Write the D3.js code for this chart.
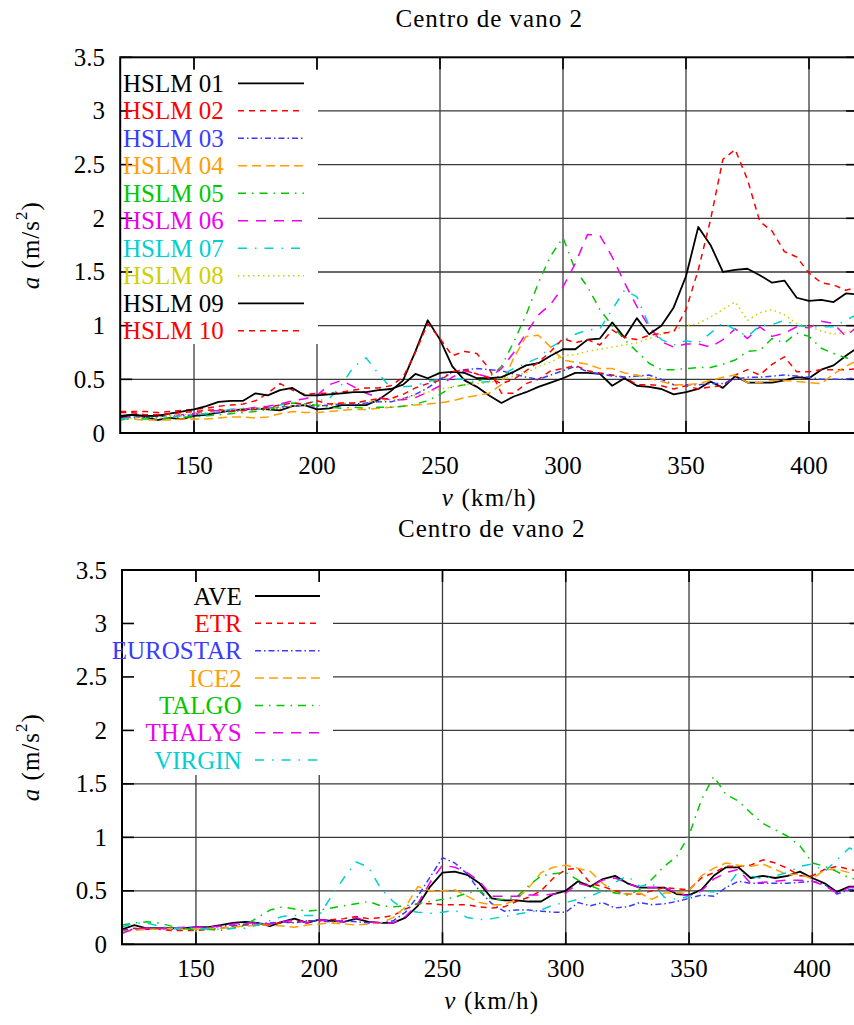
<!DOCTYPE html>
<html><head><meta charset="utf-8">
<script src="https://cdn.jsdelivr.net/npm/d3@7"></script>
<style>
body{margin:0;background:#fff}
svg{display:block}
text{font-family:"Liberation Serif","Times New Roman",serif;fill:#000}
</style>
</head><body>
<svg id="c" width="854" height="1025"></svg>
<script>
// ---------- data ----------
const speeds = [120,125,130,135,140,145,150,155,160,165,170,175,180,185,190,195,200,205,210,215,
  220,225,230,235,240,245,250,255,260,265,270,275,280,285,290,295,300,305,310,315,
  320,325,330,335,340,345,350,355,360,365,370,375,380,385,390,395,400,405,410,415,420];
const xTicks = [150,200,250,300,350,400];
const yTicks = [0,0.5,1,1.5,2,2.5,3,3.5];
const yTickLabels = ["0","0.5","1","1.5","2","2.5","3","3.5"];
const panelTitle = "Centro de vano 2";

const hslmNames = ["HSLM 01","HSLM 02","HSLM 03","HSLM 04","HSLM 05","HSLM 06","HSLM 07","HSLM 08","HSLM 09","HSLM 10"];
const hslm01 = [0.16,0.17,0.15,0.12,0.14,0.13,0.16,0.17,0.19,0.21, 0.22,0.23,0.22,0.21,0.25,0.26,0.22,0.23,0.26,0.26,
  0.26,0.31,0.39,0.49,0.76,1.05,0.87,0.62,0.49,0.43, 0.35,0.28,0.34,0.38,0.43,0.47,0.51,0.56,0.56,0.55,
  0.44,0.51,0.44,0.43,0.41,0.36,0.38,0.41,0.48,0.42, 0.53,0.47,0.47,0.47,0.49,0.52,0.51,0.59,0.63,0.72, 0.80];
const hslm02 = [0.2,0.2,0.2,0.19,0.2,0.21,0.22,0.23,0.25,0.26, 0.27,0.3,0.37,0.46,0.4,0.36,0.37,0.37,0.38,0.4,
  0.42,0.42,0.44,0.52,0.75,1.02,0.88,0.72,0.76,0.74, 0.6,0.37,0.37,0.46,0.5,0.58,0.6,0.63,0.58,0.56,
  0.54,0.52,0.45,0.45,0.44,0.41,0.44,0.41,0.43,0.44, 0.54,0.59,0.54,0.64,0.71,0.57,0.57,0.59,0.59,0.59, 0.6];
const hslm03 = [0.14,0.15,0.15,0.15,0.16,0.16,0.17,0.18,0.19,0.2, 0.21,0.22,0.23,0.24,0.25,0.26,0.25,0.26,0.27,0.27,
  0.28,0.29,0.29,0.32,0.36,0.42,0.5,0.57,0.59,0.6, 0.59,0.58,0.55,0.52,0.5,0.54,0.58,0.62,0.57,0.55,
  0.53,0.52,0.53,0.54,0.5,0.45,0.45,0.45,0.46,0.46, 0.5,0.52,0.52,0.53,0.54,0.53,0.52,0.5,0.5,0.5, 0.52];
const hslm04 = [0.13,0.13,0.12,0.12,0.12,0.13,0.13,0.13,0.14,0.15, 0.15,0.14,0.15,0.18,0.2,0.19,0.19,0.2,0.21,0.22,
  0.22,0.23,0.24,0.25,0.26,0.27,0.28,0.3,0.33,0.35, 0.37,0.45,0.7,0.9,0.91,0.8,0.68,0.66,0.64,0.6,
  0.6,0.56,0.54,0.51,0.48,0.45,0.45,0.46,0.49,0.52, 0.54,0.47,0.47,0.49,0.49,0.48,0.47,0.46,0.55,0.62, 0.68];
const hslm05 = [0.12,0.14,0.13,0.13,0.14,0.15,0.15,0.16,0.17,0.18, 0.19,0.2,0.22,0.24,0.28,0.27,0.26,0.24,0.23,0.24,
  0.23,0.24,0.24,0.25,0.27,0.3,0.36,0.43,0.45,0.48, 0.52,0.62,0.85,1.1,1.4,1.65,1.82,1.52,1.36,1.15,
  1.0,0.87,0.76,0.65,0.59,0.59,0.6,0.61,0.61,0.64, 0.68,0.76,0.77,0.88,0.84,0.93,0.9,0.79,0.74,0.7, 0.68];
const hslm06 = [0.14,0.15,0.16,0.17,0.16,0.17,0.18,0.2,0.21,0.22, 0.22,0.24,0.25,0.27,0.3,0.32,0.35,0.45,0.49,0.43,
  0.37,0.33,0.31,0.31,0.33,0.38,0.44,0.52,0.58,0.55, 0.52,0.6,0.75,0.93,1.1,1.2,1.36,1.58,1.85,1.84,
  1.64,1.4,1.18,0.99,0.85,0.8,0.83,0.83,0.8,0.87, 0.97,0.88,0.99,0.9,0.93,0.99,0.98,1.04,1.02,0.9, 1.0];
const hslm07 = [0.13,0.14,0.15,0.16,0.15,0.16,0.17,0.18,0.2,0.22, 0.23,0.22,0.24,0.26,0.28,0.27,0.3,0.32,0.45,0.62,
  0.7,0.55,0.42,0.43,0.44,0.48,0.5,0.5,0.5,0.47, 0.48,0.54,0.6,0.65,0.7,0.8,0.86,0.92,0.96,0.97,
  1.15,1.33,1.27,1.0,0.87,0.82,0.86,0.84,0.93,1.03, 0.96,0.9,1.0,1.01,1.05,1.0,0.99,0.99,0.99,1.05, 1.11];
const hslm08 = [0.12,0.14,0.15,0.15,0.16,0.17,0.18,0.19,0.2,0.21, 0.22,0.23,0.22,0.23,0.25,0.26,0.26,0.27,0.28,0.28,
  0.29,0.3,0.31,0.32,0.35,0.38,0.41,0.43,0.45,0.46, 0.47,0.5,0.53,0.56,0.62,0.66,0.72,0.73,0.76,0.78,
  0.8,0.82,0.84,0.88,0.92,0.96,1.0,1.02,1.08,1.15, 1.22,1.05,1.12,1.15,1.1,1.02,0.99,0.95,0.92,0.94, 0.96];
const hslm09 = [0.15,0.17,0.16,0.16,0.18,0.2,0.22,0.25,0.29,0.3, 0.3,0.37,0.35,0.40,0.42,0.35,0.35,0.36,0.37,0.38,
  0.38,0.40,0.41,0.45,0.55,0.51,0.56,0.57,0.56,0.51, 0.51,0.52,0.57,0.63,0.65,0.72,0.78,0.78,0.87,0.88,
  1.03,0.89,1.07,0.92,1.0,1.17,1.46,1.92,1.75,1.50, 1.52,1.53,1.47,1.40,1.42,1.26,1.23,1.24,1.22,1.30, 1.29];
const hslm10 = [0.19,0.19,0.17,0.17,0.18,0.19,0.2,0.21,0.22,0.2, 0.21,0.22,0.24,0.26,0.28,0.27,0.3,0.27,0.28,0.28,
  0.3,0.32,0.32,0.36,0.42,0.46,0.49,0.57,0.59,0.55, 0.51,0.46,0.5,0.58,0.66,0.76,0.88,0.84,0.87,0.82,
  0.96,0.89,0.87,0.91,0.93,0.94,1.15,1.52,1.99,2.55, 2.64,2.36,1.97,1.88,1.69,1.64,1.49,1.40,1.38,1.33, 1.36];

const trainNames = ["AVE","ETR","EUROSTAR","ICE2","TALGO","THALYS","VIRGIN"];
const ave = [0.14,0.18,0.15,0.15,0.15,0.15,0.16,0.16,0.18,0.2, 0.21,0.2,0.17,0.21,0.24,0.2,0.23,0.22,0.21,0.24,
  0.21,0.2,0.2,0.25,0.36,0.54,0.67,0.68,0.65,0.57, 0.43,0.41,0.41,0.4,0.4,0.47,0.5,0.59,0.54,0.61,
  0.64,0.57,0.53,0.53,0.53,0.47,0.46,0.51,0.64,0.72, 0.72,0.62,0.64,0.62,0.64,0.68,0.62,0.57,0.49,0.54, 0.54];
const etr = [0.13,0.15,0.14,0.14,0.13,0.13,0.13,0.14,0.15,0.17, 0.18,0.18,0.19,0.2,0.21,0.22,0.22,0.23,0.24,0.26,
  0.24,0.25,0.27,0.33,0.38,0.38,0.37,0.37,0.37,0.35, 0.34,0.35,0.4,0.44,0.5,0.62,0.7,0.71,0.57,0.54,
  0.5,0.47,0.47,0.5,0.53,0.52,0.51,0.62,0.67,0.73, 0.73,0.74,0.79,0.76,0.71,0.64,0.64,0.7,0.73,0.7, 0.68];
const eurostar = [0.13,0.14,0.15,0.15,0.14,0.15,0.16,0.15,0.17,0.18, 0.19,0.19,0.2,0.21,0.2,0.22,0.22,0.21,0.22,0.21,
  0.2,0.2,0.22,0.3,0.45,0.63,0.81,0.76,0.66,0.5, 0.38,0.31,0.32,0.32,0.31,0.3,0.3,0.39,0.36,0.39,
  0.34,0.35,0.39,0.37,0.38,0.4,0.43,0.46,0.45,0.53, 0.59,0.57,0.57,0.57,0.57,0.58,0.59,0.56,0.47,0.51, 0.52];
const ice2 = [0.12,0.13,0.14,0.14,0.15,0.14,0.14,0.15,0.15,0.16, 0.17,0.18,0.18,0.17,0.16,0.18,0.19,0.2,0.19,0.18,
  0.19,0.2,0.25,0.35,0.54,0.5,0.5,0.51,0.45,0.39, 0.37,0.37,0.42,0.53,0.67,0.72,0.74,0.71,0.68,0.57,
  0.48,0.47,0.48,0.42,0.48,0.48,0.5,0.64,0.71,0.76, 0.74,0.73,0.75,0.7,0.65,0.66,0.61,0.7,0.7,0.67, 0.68];
const talgo = [0.18,0.2,0.21,0.2,0.17,0.15,0.13,0.14,0.13,0.15, 0.18,0.25,0.32,0.35,0.33,0.31,0.32,0.34,0.36,0.38,
  0.4,0.36,0.35,0.36,0.38,0.4,0.42,0.44,0.48,0.5, 0.42,0.42,0.44,0.55,0.64,0.66,0.67,0.6,0.55,0.5,
  0.48,0.46,0.51,0.61,0.73,0.82,1.02,1.35,1.57,1.4, 1.34,1.23,1.13,1.07,1.01,0.92,0.76,0.73,0.68,0.62, 0.6];
const thalys = [0.1,0.15,0.15,0.15,0.15,0.16,0.16,0.16,0.17,0.19, 0.2,0.2,0.19,0.21,0.23,0.2,0.23,0.22,0.21,0.25,
  0.21,0.2,0.2,0.26,0.38,0.58,0.74,0.72,0.67,0.59, 0.45,0.45,0.45,0.46,0.46,0.47,0.48,0.57,0.54,0.6,
  0.62,0.57,0.53,0.53,0.53,0.48,0.45,0.5,0.61,0.67, 0.7,0.57,0.58,0.59,0.6,0.6,0.59,0.55,0.48,0.53, 0.55];
const virgin = [0.16,0.2,0.2,0.17,0.15,0.15,0.15,0.14,0.14,0.15, 0.15,0.18,0.22,0.26,0.27,0.27,0.27,0.45,0.62,0.77,
  0.72,0.52,0.4,0.32,0.3,0.29,0.3,0.32,0.25,0.23, 0.24,0.26,0.28,0.3,0.32,0.37,0.39,0.42,0.45,0.5,
  0.58,0.64,0.54,0.57,0.44,0.42,0.45,0.5,0.49,0.53, 0.68,0.64,0.61,0.64,0.67,0.73,0.75,0.68,0.79,0.9, 0.85];

// ---------- styles ----------
const hslmStyles = [
  {c:"#000000", d:null, w:1.8},
  {c:"#ff0000", d:"6,5", w:1.5},
  {c:"#3b3bff", d:"6,3,1.5,3", w:1.5},
  {c:"#ffa000", d:"9,5", w:1.5},
  {c:"#00c800", d:"8,6,1.5,6", w:1.5},
  {c:"#ee00ee", d:"10,8", w:1.5},
  {c:"#00d0d0", d:"9,8,1.5,8", w:1.5},
  {c:"#d0d000", d:"1.5,3.5", w:1.5},
  {c:"#000000", d:null, w:1.8},
  {c:"#ff0000", d:"6,5", w:1.5}
];
const trainStyles = [
  {c:"#000000", d:null, w:1.8},
  {c:"#ff0000", d:"6,5", w:1.5},
  {c:"#3b3bff", d:"6,3,1.5,3", w:1.5},
  {c:"#ffa000", d:"9,5", w:1.5},
  {c:"#00c800", d:"8,6,1.5,6", w:1.5},
  {c:"#ee00ee", d:"10,8", w:1.5},
  {c:"#00d0d0", d:"9,8,1.5,8", w:1.5}
];

const svg = d3.select("#c");
const FS = 25;

function panel(o, idx) {
  const x = d3.scaleLinear().domain([120,420]).range([o.left, o.right]);
  const y = d3.scaleLinear().domain([0,3.5]).range([o.bottom, o.top]);
  const g = svg.append("g");
  const clipId = "clip" + idx;
  g.append("clipPath").attr("id", clipId).append("rect")
    .attr("x", o.left).attr("y", o.top).attr("width", o.right - o.left).attr("height", o.bottom - o.top);

  // grid
  const grid = g.append("g").attr("stroke", "#3a3a3a").attr("stroke-width", 1.3);
  yTicks.slice(1, -1).forEach(t => grid.append("line")
    .attr("x1", o.left).attr("x2", o.right).attr("y1", y(t)).attr("y2", y(t)));
  xTicks.forEach(t => grid.append("line")
    .attr("x1", x(t)).attr("x2", x(t)).attr("y1", o.top).attr("y2", o.bottom));

  // key background
  g.append("rect").attr("x", o.left + 1).attr("y", o.key.boxTop)
    .attr("width", o.key.boxRight - o.left - 1).attr("height", o.key.boxBottom - o.key.boxTop)
    .attr("fill", "#fff");

  // ticks
  const tk = g.append("g").attr("stroke", "#000").attr("stroke-width", 1.6);
  yTicks.forEach(t => {
    tk.append("line").attr("x1", o.left).attr("x2", o.left + 12).attr("y1", y(t)).attr("y2", y(t));
    tk.append("line").attr("x1", o.right).attr("x2", o.right - 12).attr("y1", y(t)).attr("y2", y(t));
  });
  xTicks.forEach(t => {
    tk.append("line").attr("x1", x(t)).attr("x2", x(t)).attr("y1", o.bottom).attr("y2", o.bottom - 12);
    tk.append("line").attr("x1", x(t)).attr("x2", x(t)).attr("y1", o.top).attr("y2", o.top + 12);
  });

  // data lines
  const line = d3.line().x((d, i) => x(speeds[i])).y(d => y(d));
  const lines = g.append("g").attr("clip-path", `url(#${clipId})`);
  o.series.forEach((s, i) => {
    const st = o.styles[i];
    lines.append("path").datum(s).attr("d", line).attr("fill", "none")
      .attr("stroke", st.c).attr("stroke-width", st.w)
      .attr("stroke-dasharray", st.d).attr("stroke-linejoin", "round");
  });

  // border
  g.append("rect").attr("x", o.left).attr("y", o.top)
    .attr("width", o.right - o.left).attr("height", o.bottom - o.top)
    .attr("fill", "none").attr("stroke", "#000").attr("stroke-width", 2);

  // tick labels
  yTicks.forEach((t, i) => g.append("text").attr("x", o.ylabX).attr("y", y(t))
    .attr("text-anchor", "end").attr("dominant-baseline", "central")
    .attr("font-size", FS).text(yTickLabels[i]));
  xTicks.forEach(t => g.append("text").attr("x", x(t)).attr("y", o.xlabY)
    .attr("text-anchor", "middle").attr("dominant-baseline", "central")
    .attr("font-size", FS).text(t));

  // axis titles
  const cx = (o.left + o.right) / 2;
  const xt = g.append("text").attr("x", cx).attr("y", o.xtitleY)
    .attr("text-anchor", "middle").attr("dominant-baseline", "central")
    .attr("font-size", FS).attr("letter-spacing", 1.2);
  xt.append("tspan").attr("font-style", "italic").text("v");
  xt.append("tspan").text(" (km/h)");

  const cy = (o.top + o.bottom) / 2;
  const yt = g.append("text").attr("transform", `translate(${o.ytitleX},${cy}) rotate(-90)`)
    .attr("text-anchor", "middle").attr("dominant-baseline", "central")
    .attr("font-size", FS).attr("letter-spacing", 1);
  yt.append("tspan").attr("font-style", "italic").text("a");
  yt.append("tspan").text(" (m/s");
  yt.append("tspan").attr("font-size", 17).attr("dy", -9).text("2");
  yt.append("tspan").attr("dy", 9).text(")");

  // title
  g.append("text").attr("x", cx).attr("y", o.titleY).attr("text-anchor", "middle")
    .attr("dominant-baseline", "central").attr("font-size", FS)
    .attr("letter-spacing", 1).text(panelTitle);

  // key
  o.names.forEach((n, i) => {
    const st = o.styles[i];
    const yy = o.key.y0 + i * o.key.dy;
    g.append("text").attr("x", o.key.textX).attr("y", yy)
      .attr("text-anchor", o.key.anchor).attr("dominant-baseline", "central")
      .attr("font-size", FS).style("fill", st.c).text(n);
    g.append("line").attr("x1", o.key.s1).attr("x2", o.key.s2).attr("y1", yy).attr("y2", yy)
      .attr("stroke", st.c).attr("stroke-width", st.w).attr("stroke-dasharray", st.d);
  });
}

panel({
  left: 120.2, right: 858.2, top: 57.3, bottom: 433,
  ylabX: 105, xlabY: 465, xtitleY: 497, ytitleX: 30, titleY: 18,
  series: [hslm01,hslm02,hslm03,hslm04,hslm05,hslm06,hslm07,hslm08,hslm09,hslm10],
  styles: hslmStyles, names: hslmNames,
  key: {textX: 123, anchor: "start", s1: 238, s2: 304, y0: 83.3, dy: 27.5,
        boxRight: 318, boxTop: 70, boxBottom: 344}
}, 0);

panel({
  left: 122, right: 861.6, top: 570, bottom: 944.3,
  ylabX: 107, xlabY: 968, xtitleY: 1000, ytitleX: 30, titleY: 528,
  series: [ave,etr,eurostar,ice2,talgo,thalys,virgin],
  styles: trainStyles, names: trainNames,
  key: {textX: 241.7, anchor: "end", s1: 255, s2: 320, y0: 596, dy: 27.35,
        boxRight: 333, boxTop: 582, boxBottom: 775}
}, 1);
</script>
</body></html>
